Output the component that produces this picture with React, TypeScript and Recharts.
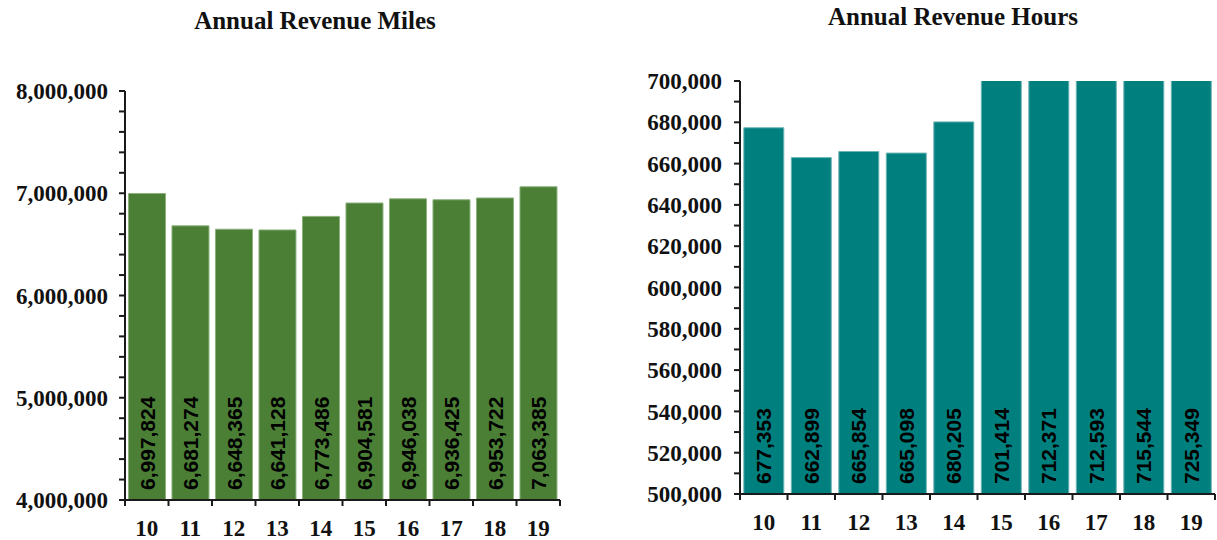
import React from 'react';
import { BarChart, Bar, XAxis, YAxis, LabelList } from 'recharts';

const years = ['10', '11', '12', '13', '14', '15', '16', '17', '18', '19'];
const revenueMiles = [6997824, 6681274, 6648365, 6641128, 6773486, 6904581, 6946038, 6936425, 6953722, 7063385];
const revenueHours = [677353, 662899, 665854, 665098, 680205, 701414, 712371, 712593, 715544, 725349];

const milesTicks = [
  4000000, 4200000, 4400000, 4600000, 4800000, 5000000, 5200000, 5400000, 5600000, 5800000, 6000000,
  6200000, 6400000, 6600000, 6800000, 7000000, 7200000, 7400000, 7600000, 7800000, 8000000,
];
const hoursTicks = [
  500000, 510000, 520000, 530000, 540000, 550000, 560000, 570000, 580000, 590000, 600000,
  610000, 620000, 630000, 640000, 650000, 660000, 670000, 680000, 690000, 700000,
];

const milesData = years.map((year, i) => ({ year, value: revenueMiles[i] }));
const hoursData = years.map((year, i) => ({ year, value: revenueHours[i] }));

const serif = '"Liberation Serif", "Times New Roman", serif';
const sans = '"Liberation Sans", Arial, sans-serif';
const axisStroke = '#1a1a1a';
const tickFont = { fill: '#111', fontSize: 23, fontWeight: 'bold', fontFamily: serif };

const fmt = (v: number) => v.toLocaleString('en-US');

// vertical value label sitting near the bottom of each bar
const VerticalLabel = (props: any) => {
  const { x, y, width, height, value } = props;
  const cx = x + width / 2;
  const bottom = y + height - 10;
  return (
    <text
      x={cx}
      y={bottom}
      dy="0.36em"
      transform={`rotate(-90, ${cx}, ${bottom})`}
      textAnchor="start"
      fill="#000"
      fontSize={21}
      fontWeight="bold"
      fontFamily={sans}
    >
      {fmt(value)}
    </text>
  );
};

// category label with tick marks on the band edges (Excel style)
const makeXTick = (labelGap: number) => (props: any) => {
  const { x, y, payload, index, visibleTicksCount } = props;
  const half = payload && payload.offset ? payload.offset : 0;
  const last = index === visibleTicksCount - 1;
  return (
    <g>
      <line x1={x - half} x2={x - half} y1={y} y2={y + 6} stroke={axisStroke} strokeWidth={2} />
      {last && <line x1={x + half} x2={x + half} y1={y} y2={y + 6} stroke={axisStroke} strokeWidth={2} />}
      <text x={x} y={y + labelGap} dy="0.71em" textAnchor="middle" {...tickFont}>
        {payload.value}
      </text>
    </g>
  );
};

type PanelProps = {
  data: { year: string; value: number }[];
  color: string;
  edge: string;
  domain: [number, number];
  ticks: number[];
  major: number;
  width: number;
  margin: { top: number; right: number; bottom: number; left: number };
  yWidth: number;
  yTickMargin: number;
  xLabelGap: number;
};

const Panel = (p: PanelProps) => (
  <BarChart width={p.width} height={540} data={p.data} margin={p.margin} barCategoryGap="8%">
    <XAxis
      dataKey="year"
      height={40}
      tickLine={false}
      tickSize={0}
      tickMargin={0}
      stroke={axisStroke}
      strokeWidth={2}
      tick={makeXTick(p.xLabelGap)}
      interval={0}
    />
    <YAxis
      type="number"
      domain={p.domain}
      ticks={p.ticks}
      allowDataOverflow
      interval={0}
      width={p.yWidth}
      tickSize={6}
      tickMargin={p.yTickMargin}
      stroke={axisStroke}
      strokeWidth={2}
      tick={tickFont}
      tickFormatter={(v: number) => (v % p.major === 0 ? fmt(v) : '')}
    />
    <Bar dataKey="value" fill={p.color} stroke={p.edge} strokeWidth={1} isAnimationActive={false}>
      <LabelList dataKey="value" content={VerticalLabel} />
    </Bar>
  </BarChart>
);

const titleStyle: React.CSSProperties = {
  position: 'absolute',
  width: 400,
  textAlign: 'center',
  fontFamily: serif,
  fontWeight: 'bold',
  fontSize: 25,
  lineHeight: 1,
  color: '#111',
};

export default function App() {
  return (
    <div style={{ position: 'absolute', left: 0, top: 0, width: 1217, height: 540, background: '#fff' }}>
      <div style={{ ...titleStyle, left: 115, top: 8 }}>Annual Revenue Miles</div>
      <div style={{ ...titleStyle, left: 753, top: 4 }}>Annual Revenue Hours</div>
      <div style={{ position: 'absolute', left: 0, top: 0 }}>
        <Panel
          data={milesData}
          color="#4B7F36"
          edge="#8DB07E"
          domain={[4000000, 8000000]}
          ticks={milesTicks}
          major={1000000}
          width={570}
          margin={{ top: 91, right: 10, bottom: 0, left: 0 }}
          yWidth={125}
          yTickMargin={11}
          xLabelGap={20}
        />
      </div>
      <div style={{ position: 'absolute', left: 600, top: 0 }}>
        <Panel
          data={hoursData}
          color="#007F7F"
          edge="#6FB5B5"
          domain={[500000, 700000]}
          ticks={hoursTicks}
          major={20000}
          width={617}
          margin={{ top: 81, right: 2, bottom: 6, left: 0 }}
          yWidth={140}
          yTickMargin={12}
          xLabelGap={20}
        />
      </div>
    </div>
  );
}
